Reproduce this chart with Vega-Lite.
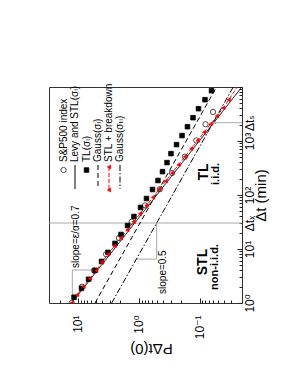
{
  "$schema": "https://vega.github.io/schema/vega-lite/v6.json",
  "width": 193,
  "height": 216,
  "autosize": {"type": "none"},
  "padding": {"left": 49, "top": 87, "right": 49, "bottom": 74},
  "background": "white",
  "config": {
    "font": "Liberation Sans, DejaVu Sans",
    "view": {"stroke": "#333333", "strokeWidth": 1},
    "axis": {"grid": false, "domain": false, "labelColor": "#000000", "titleColor": "#000000", "tickColor": "#222222", "titleFontWeight": "normal"}
  },
  "datasets": {
    "guides": [
      {"g": "dtx", "i": 0, "P": 30, "dt": 30.3},
      {"g": "dtx", "i": 1, "P": 0.02, "dt": 30.3},
      {"g": "s07", "i": 0, "P": 12.4, "dt": 1},
      {"g": "s07", "i": 1, "P": 12.4, "dt": 4.08},
      {"g": "s07", "i": 2, "P": 5.6, "dt": 4.08},
      {"g": "s05", "i": 0, "P": 1.08, "dt": 6.5},
      {"g": "s05", "i": 1, "P": 0.507, "dt": 6.5},
      {"g": "s05", "i": 2, "P": 0.507, "dt": 30.3},
      {"g": "dts", "i": 0, "P": 0.02, "dt": 2183},
      {"g": "dts", "i": 1, "P": 0.057, "dt": 2183}
    ],
    "arrow": [{"P": 0.057, "dt": 2183}],
    "curves": [
      {"series": "levy", "part": "curve", "dt": 1, "P": 12.7},
      {"series": "levy", "part": "curve", "dt": 10000, "P": 0.0201},
      {"series": "gaussL", "part": "curve", "dt": 1, "P": 5.25},
      {"series": "gaussL", "part": "curve", "dt": 10000, "P": 0.0525},
      {"series": "gaussTL", "part": "curve", "dt": 1, "P": 2.79},
      {"series": "gaussTL", "part": "curve", "dt": 10000, "P": 0.0279},
      {"series": "stl", "part": "curve", "dt": 1, "P": 12.7},
      {"series": "stl", "part": "curve", "dt": 1.414, "P": 10.35},
      {"series": "stl", "part": "curve", "dt": 2, "P": 8.12},
      {"series": "stl", "part": "curve", "dt": 2.828, "P": 6.37},
      {"series": "stl", "part": "curve", "dt": 4, "P": 5.0},
      {"series": "stl", "part": "curve", "dt": 5.657, "P": 4.07},
      {"series": "stl", "part": "curve", "dt": 8, "P": 3.196},
      {"series": "stl", "part": "curve", "dt": 11.31, "P": 2.507},
      {"series": "stl", "part": "curve", "dt": 16, "P": 1.967},
      {"series": "stl", "part": "curve", "dt": 22.63, "P": 1.543},
      {"series": "stl", "part": "curve", "dt": 32, "P": 1.211},
      {"series": "stl", "part": "curve", "dt": 45.25, "P": 0.95},
      {"series": "stl", "part": "curve", "dt": 64, "P": 0.746},
      {"series": "stl", "part": "curve", "dt": 90.51, "P": 0.585},
      {"series": "stl", "part": "curve", "dt": 128, "P": 0.459},
      {"series": "stl", "part": "curve", "dt": 181, "P": 0.36},
      {"series": "stl", "part": "curve", "dt": 256, "P": 0.2826},
      {"series": "stl", "part": "curve", "dt": 362, "P": 0.2217},
      {"series": "stl", "part": "curve", "dt": 512, "P": 0.1739},
      {"series": "stl", "part": "curve", "dt": 724.1, "P": 0.1365},
      {"series": "stl", "part": "curve", "dt": 1024, "P": 0.1071},
      {"series": "stl", "part": "curve", "dt": 1448, "P": 0.084},
      {"series": "stl", "part": "curve", "dt": 2048, "P": 0.0659},
      {"series": "stl", "part": "curve", "dt": 2896, "P": 0.0517},
      {"series": "stl", "part": "curve", "dt": 4096, "P": 0.0406},
      {"series": "stl", "part": "curve", "dt": 5793, "P": 0.0331},
      {"series": "stl", "part": "curve", "dt": 10000, "P": 0.024},
      {"series": "levy", "part": "legend", "dt": 359, "P": 11.2},
      {"series": "levy", "part": "legend", "dt": 129, "P": 11.2},
      {"series": "gaussL", "part": "legend", "dt": 359, "P": 4.69},
      {"series": "gaussL", "part": "legend", "dt": 129, "P": 4.69},
      {"series": "stl", "part": "legend", "dt": 330, "P": 3.09},
      {"series": "stl", "part": "legend", "dt": 123.8, "P": 3.09},
      {"series": "gaussTL", "part": "legend", "dt": 359, "P": 2.035},
      {"series": "gaussTL", "part": "legend", "dt": 129, "P": 2.035}
    ],
    "markers": [
      {"series": "sp", "dt": 1, "P": 12.7},
      {"series": "sp", "dt": 2, "P": 8.59},
      {"series": "sp", "dt": 4, "P": 5.45},
      {"series": "sp", "dt": 8, "P": 3.45},
      {"series": "sp", "dt": 16, "P": 2.12},
      {"series": "sp", "dt": 32, "P": 1.31},
      {"series": "sp", "dt": 64, "P": 0.789},
      {"series": "sp", "dt": 128, "P": 0.45},
      {"series": "sp", "dt": 256, "P": 0.283},
      {"series": "sp", "dt": 512, "P": 0.174},
      {"series": "sp", "dt": 1024, "P": 0.113},
      {"series": "sp", "dt": 2048, "P": 0.0797},
      {"series": "sp", "dt": 3450, "P": 0.06},
      {"series": "tl", "dt": 1.28, "P": 11.6},
      {"series": "tl", "dt": 1.87, "P": 8.75},
      {"series": "tl", "dt": 2.75, "P": 6.71},
      {"series": "tl", "dt": 4.02, "P": 5.25},
      {"series": "tl", "dt": 5.89, "P": 4.1},
      {"series": "tl", "dt": 8.65, "P": 3.21},
      {"series": "tl", "dt": 12.7, "P": 2.46},
      {"series": "tl", "dt": 18.6, "P": 1.96},
      {"series": "tl", "dt": 27.2, "P": 1.53},
      {"series": "tl", "dt": 40, "P": 1.2},
      {"series": "tl", "dt": 58.7, "P": 0.936},
      {"series": "tl", "dt": 86.1, "P": 0.746},
      {"series": "tl", "dt": 126.5, "P": 0.594},
      {"series": "tl", "dt": 185.5, "P": 0.483},
      {"series": "tl", "dt": 271, "P": 0.407},
      {"series": "tl", "dt": 398, "P": 0.343},
      {"series": "tl", "dt": 584, "P": 0.295},
      {"series": "tl", "dt": 858, "P": 0.239},
      {"series": "tl", "dt": 1259, "P": 0.194},
      {"series": "tl", "dt": 1840, "P": 0.158},
      {"series": "tl", "dt": 2701, "P": 0.128},
      {"series": "tl", "dt": 3964, "P": 0.104},
      {"series": "tl", "dt": 5818, "P": 0.0813},
      {"series": "tl", "dt": 8540, "P": 0.0635},
      {"series": "stl", "dt": 1, "P": 12.7},
      {"series": "stl", "dt": 1.414, "P": 10.35},
      {"series": "stl", "dt": 2, "P": 8.12},
      {"series": "stl", "dt": 2.828, "P": 6.37},
      {"series": "stl", "dt": 4, "P": 5.0},
      {"series": "stl", "dt": 5.657, "P": 4.07},
      {"series": "stl", "dt": 8, "P": 3.196},
      {"series": "stl", "dt": 11.31, "P": 2.507},
      {"series": "stl", "dt": 16, "P": 1.967},
      {"series": "stl", "dt": 22.63, "P": 1.543},
      {"series": "stl", "dt": 32, "P": 1.211},
      {"series": "stl", "dt": 45.25, "P": 0.95},
      {"series": "stl", "dt": 64, "P": 0.746},
      {"series": "stl", "dt": 90.51, "P": 0.585},
      {"series": "stl", "dt": 128, "P": 0.459},
      {"series": "stl", "dt": 181, "P": 0.36},
      {"series": "stl", "dt": 256, "P": 0.2826},
      {"series": "stl", "dt": 362, "P": 0.2217},
      {"series": "stl", "dt": 512, "P": 0.1739},
      {"series": "stl", "dt": 724.1, "P": 0.1365},
      {"series": "stl", "dt": 1024, "P": 0.1071},
      {"series": "stl", "dt": 1448, "P": 0.084},
      {"series": "stl", "dt": 2048, "P": 0.0659},
      {"series": "stl", "dt": 2896, "P": 0.0517},
      {"series": "stl", "dt": 4096, "P": 0.0406},
      {"series": "stl", "dt": 5793, "P": 0.0331},
      {"series": "sp", "dt": 290, "P": 17.3},
      {"series": "tl", "dt": 290, "P": 7.24},
      {"series": "stl", "dt": 330, "P": 3.09},
      {"series": "stl", "dt": 123.8, "P": 3.09}
    ],
    "legendText": [
      {"label": "S&P500 index", "P": 17.3, "dt": 408},
      {"label": "Levy and STL(σₗ)", "P": 11.2, "dt": 408},
      {"label": "TL(σₗ)", "P": 7.24, "dt": 408},
      {"label": "Gauss(σₗ)", "P": 4.69, "dt": 408},
      {"label": "STL + breakdown", "P": 3.09, "dt": 408},
      {"label": "Gauss(σₜₗ)", "P": 2.035, "dt": 408}
    ],
    "notes": [
      {"label": "slope=ε/α=0.7", "P": 10.78, "dt": 4.45},
      {"label": "slope=0.5", "P": 0.399, "dt": 1.47}
    ],
    "regimes": [
      {"label": "STL", "P": 0.0877, "dt": 5.74},
      {"label": "TL", "P": 0.0844, "dt": 267}
    ],
    "regimeNotes": [
      {"label": "non-i.i.d.", "P": 0.0546, "dt": 4.64},
      {"label": "i.i.d.", "P": 0.0536, "dt": 245}
    ]
  },
  "resolve": {"axis": {"x": "independent", "y": "independent"}},
  "layer": [
    {
      "data": {"name": "guides"},
      "mark": {"type": "line", "color": "#a8a8a8", "strokeWidth": 1, "clip": true},
      "encoding": {
        "x": {"field": "P", "type": "quantitative", "scale": {"type": "log", "domain": [0.02, 30], "reverse": true, "nice": false},
          "axis": {"orient": "bottom", "values": [0.1, 1, 10],
            "labelExpr": "datum.value > 5 ? '10¹' : datum.value > 0.5 ? '10⁰' : '10⁻¹'",
            "labelAngle": -90, "labelAlign": "right", "labelBaseline": "middle", "labelPadding": 12, "labelFontSize": 12,
            "labelFlush": false, "labelOverlap": false, "ticks": false, "domain": false, "grid": false,
            "title": "PΔt(0)", "titleAngle": 180, "titleFontSize": 15, "titleX": 102, "titleY": 45, "titleAlign": "center", "titleBaseline": "middle"}},
        "y": {"field": "dt", "type": "quantitative", "scale": {"type": "log", "domain": [1, 10000], "nice": false},
          "axis": {"orient": "right", "values": [1, 10, 30.3, 100, 1000, 2183],
            "labelExpr": "datum.value == 1 ? '10⁰' : datum.value == 10 ? '10¹' : datum.value == 100 ? '10²' : datum.value == 1000 ? '10³' : datum.value < 100 ? 'Δtₓ' : 'Δtₛ'",
            "labelAngle": -90, "labelAlign": "center", "labelBaseline": "top", "labelPadding": 2, "labelFontSize": 12,
            "labelFlush": false, "labelOverlap": false, "ticks": false, "domain": false, "grid": false,
            "title": "Δt (min)", "titleAngle": -90, "titleFontSize": 15, "titleX": 18, "titleY": 108, "titleAlign": "center", "titleBaseline": "middle"}},
        "detail": {"field": "g", "type": "nominal"},
        "order": {"field": "i", "type": "quantitative"}
      }
    },
    {
      "data": {"name": "curves"},
      "mark": {"type": "line", "strokeWidth": 1, "clip": true},
      "encoding": {
        "x": {"field": "P", "type": "quantitative", "scale": {"type": "log", "domain": [0.02, 30], "reverse": true, "nice": false},
          "axis": {"orient": "bottom", "values": [0.1, 1, 10], "labels": false, "ticks": true, "tickSize": -5, "domain": false, "grid": false, "title": null}},
        "y": {"field": "dt", "type": "quantitative", "scale": {"type": "log", "domain": [1, 10000], "nice": false},
          "axis": {"orient": "right", "values": [1, 10, 100, 1000, 10000], "labels": false, "ticks": true, "tickSize": -5, "domain": false, "grid": false, "title": null}},
        "detail": {"field": "part", "type": "nominal"},
        "color": {"field": "series", "type": "nominal", "scale": {"domain": ["levy", "gaussL", "stl", "gaussTL"], "range": ["#000000", "#000000", "#ff0000", "#000000"]}, "legend": null},
        "strokeDash": {"field": "series", "type": "nominal", "scale": {"domain": ["levy", "gaussL", "stl", "gaussTL"], "range": [[1, 0], [5, 3], [4, 2], [6, 2, 1.5, 2]]}, "legend": null}
      }
    },
    {
      "data": {"name": "markers"},
      "mark": {"type": "point", "filled": true, "opacity": 1, "strokeWidth": 0.8, "clip": true},
      "encoding": {
        "x": {"field": "P", "type": "quantitative", "scale": {"type": "log", "domain": [0.02, 30], "reverse": true, "nice": false},
          "axis": {"orient": "bottom", "values": [0.03, 0.04, 0.05, 0.06, 0.07, 0.08, 0.09, 0.2, 0.3, 0.4, 0.5, 0.6, 0.7, 0.8, 0.9, 2, 3, 4, 5, 6, 7, 8, 9, 20], "labels": false, "ticks": true, "tickSize": -3, "domain": false, "grid": false, "title": null}},
        "y": {"field": "dt", "type": "quantitative", "scale": {"type": "log", "domain": [1, 10000], "nice": false},
          "axis": {"orient": "right", "values": [2, 3, 4, 5, 6, 7, 8, 9, 20, 30, 40, 50, 60, 70, 80, 90, 200, 300, 400, 500, 600, 700, 800, 900, 2000, 3000, 4000, 5000, 6000, 7000, 8000, 9000], "labels": false, "ticks": true, "tickSize": -3, "domain": false, "grid": false, "title": null}},
        "shape": {"field": "series", "type": "nominal", "scale": {"domain": ["sp", "tl", "stl"], "range": ["circle", "square", "triangle-left"]}, "legend": null},
        "fill": {"field": "series", "type": "nominal", "scale": {"domain": ["sp", "tl", "stl"], "range": ["transparent", "#000000", "#ff0000"]}, "legend": null},
        "stroke": {"field": "series", "type": "nominal", "scale": {"domain": ["sp", "tl", "stl"], "range": ["#222222", "#000000", "#ff0000"]}, "legend": null},
        "size": {"field": "series", "type": "nominal", "scale": {"domain": ["sp", "tl", "stl"], "range": [28, 14, 22]}, "legend": null}
      }
    },
    {
      "layer": [
        {
          "data": {"name": "arrow"},
          "mark": {"type": "point", "shape": "triangle-left", "filled": true, "opacity": 1, "color": "#a8a8a8", "size": 14},
          "encoding": {
            "x": {"field": "P", "type": "quantitative", "axis": null},
            "y": {"field": "dt", "type": "quantitative", "axis": null}
          }
        },
        {
          "data": {"name": "legendText"},
          "mark": {"type": "text", "angle": -90, "align": "left", "baseline": "middle", "fontSize": 10, "color": "#000000"},
          "encoding": {
            "x": {"field": "P", "type": "quantitative", "axis": null},
            "y": {"field": "dt", "type": "quantitative", "axis": null},
            "text": {"field": "label"}
          }
        },
        {
          "data": {"name": "notes"},
          "mark": {"type": "text", "angle": -90, "align": "left", "baseline": "middle", "fontSize": 10, "color": "#000000"},
          "encoding": {
            "x": {"field": "P", "type": "quantitative", "axis": null},
            "y": {"field": "dt", "type": "quantitative", "axis": null},
            "text": {"field": "label"}
          }
        },
        {
          "data": {"name": "regimes"},
          "mark": {"type": "text", "angle": -90, "align": "center", "baseline": "middle", "fontSize": 14, "fontWeight": "bold", "color": "#000000"},
          "encoding": {
            "x": {"field": "P", "type": "quantitative", "axis": null},
            "y": {"field": "dt", "type": "quantitative", "axis": null},
            "text": {"field": "label"}
          }
        },
        {
          "data": {"name": "regimeNotes"},
          "mark": {"type": "text", "angle": -90, "align": "center", "baseline": "middle", "fontSize": 11, "fontWeight": "bold", "color": "#000000"},
          "encoding": {
            "x": {"field": "P", "type": "quantitative", "axis": null},
            "y": {"field": "dt", "type": "quantitative", "axis": null},
            "text": {"field": "label"}
          }
        }
      ]
    }
  ]
}
